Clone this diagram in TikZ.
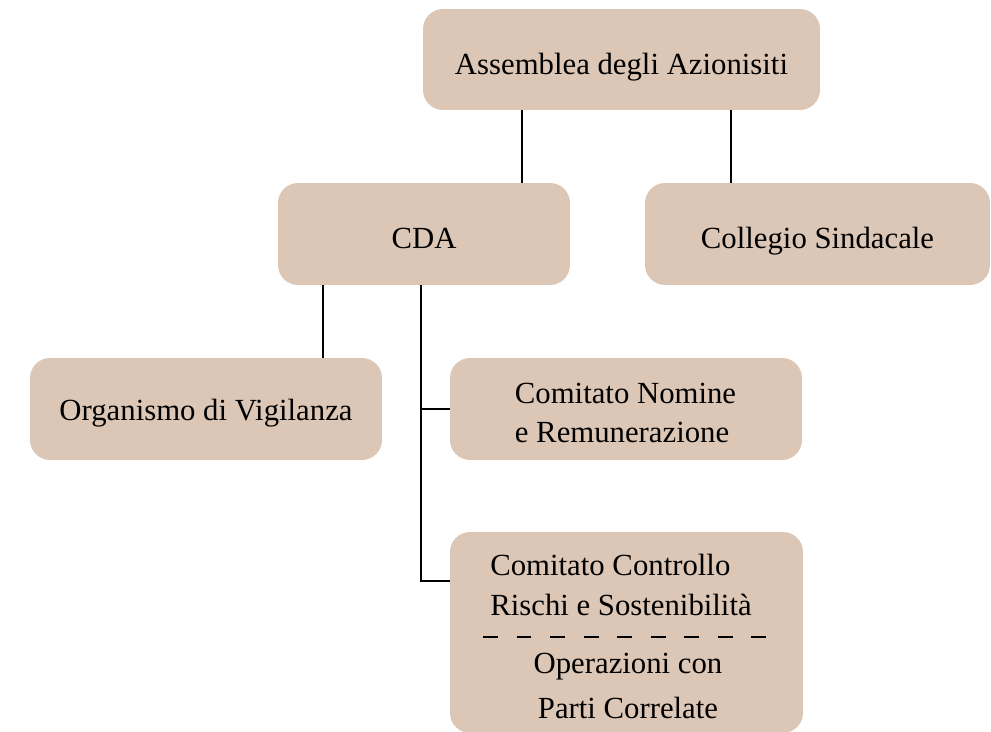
\documentclass[tikz,border=0pt]{standalone}
\usepackage{fontspec}
\setmainfont{Liberation Serif}
\definecolor{boxfill}{RGB}{220,199,182}
\tikzset{
  box/.style={fill=boxfill, rounded corners=0.4cm, inner sep=0pt,
    font=\fontsize{17.5}{22.7}\selectfont},
  oneline/.style={text height=20.4pt, text depth=3.8pt},
  boxtext/.style={inner sep=0pt, font=\fontsize{17.5}{22.7}\selectfont},
  link/.style={line width=1.2pt},
}
\begin{document}
\begin{tikzpicture}[x=0.02cm, y=-0.02cm]
\useasboundingbox (0,0) rectangle (991,732);
% boxes
\node[box, oneline, minimum width=7.94cm, minimum height=2.02cm] (asm) at (621.5,59.5) {Assemblea degli Azionisiti};
\node[box, oneline, minimum width=5.84cm, minimum height=2.04cm] (cda) at (424,234) {CDA};
\node[box, oneline, minimum width=6.9cm, minimum height=2.04cm] (cs) at (817.5,234) {Collegio Sindacale};
\node[box, oneline, text height=16.6pt, minimum width=7.04cm, minimum height=2.04cm] (odv) at (206,409) {Organismo di Vigilanza};
\node[box, minimum width=7.04cm, minimum height=2.04cm] (cnr) at (626,409) {};
\node[box, minimum width=7.06cm, minimum height=4.02cm] (ccr) at (626.5,632.5) {};
% texts of the two-line boxes
\node[boxtext, align=left] (cnrtext) at (625.5,413) {Comitato Nomine\\e Remunerazione};
\node[boxtext, align=left] (ccrtop) at (621,585) {Comitato Controllo\\Rischi e Sostenibilità};
\node[boxtext, align=center, font=\fontsize{17.5}{25.5}\selectfont] (ccrbot) at (628,686) {Operazioni con\\Parti Correlate};
\coordinate (sepl) at (483,637);
\coordinate (sepr) at (768,637);
\draw[line width=1.1pt, dash pattern=on 8.5pt off 10.6pt] (sepl) -- (sepr);
% connectors
\draw[link] ([xshift=1.96cm]cda.north) -- ([xshift=1.96cm]cda.north |- asm.south);
\draw[link] ([xshift=-1.73cm]cs.north) -- ([xshift=-1.73cm]cs.north |- asm.south);
\draw[link] ([xshift=2.34cm]odv.north) -- ([xshift=2.34cm]odv.north |- cda.south);
\coordinate (trunk) at ([xshift=-0.06cm]cda.south);
\draw[link] (trunk) |- ([yshift=1.03cm]ccr.west);
\draw[link] (cnr.west) -- (cnr.west -| trunk);
\end{tikzpicture}
\end{document}
